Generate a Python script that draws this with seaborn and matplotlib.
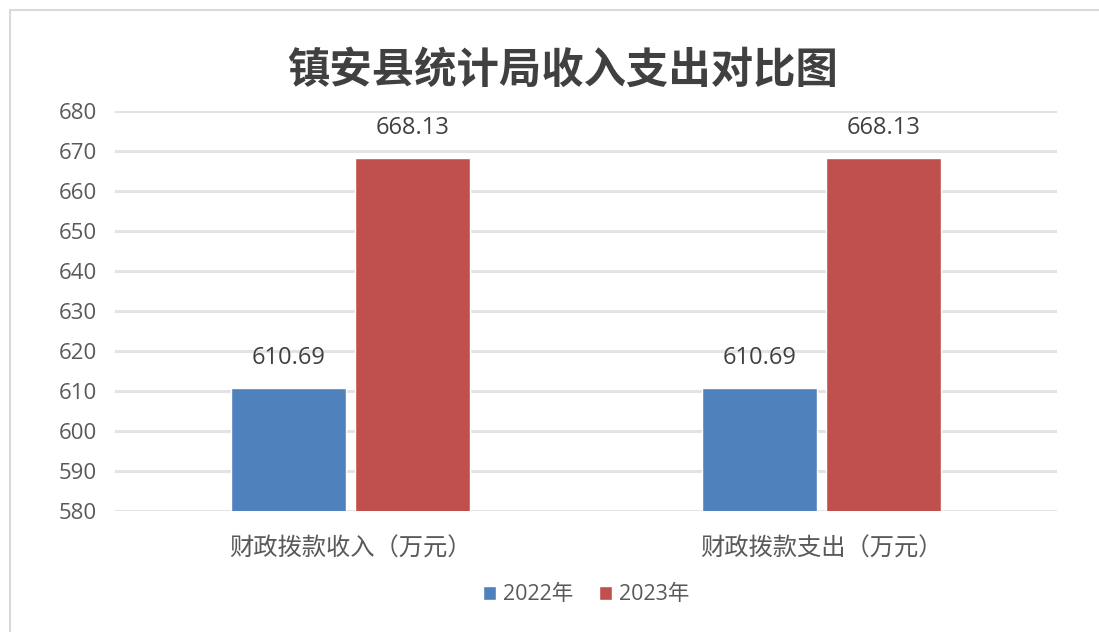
import pandas as pd
import seaborn as sns
import matplotlib.pyplot as plt
from matplotlib.patches import Rectangle

# Chart data
categories = ['财政拨款收入（万元）', '财政拨款支出（万元）']
years = ['2022年', '2023年']
values_2022 = [610.69, 610.69]
values_2023 = [668.13, 668.13]
y_ticks = [580, 590, 600, 610, 620, 630, 640, 650, 660, 670, 680]

df = pd.DataFrame({
    'category': categories * 2,
    'year': [years[0]] * len(categories) + [years[1]] * len(categories),
    'value': values_2022 + values_2023,
})

sns.set_style('white')
plt.rcParams['font.family'] = ['Open Sans', 'Noto Sans CJK SC', 'DejaVu Sans']

fig = plt.figure(figsize=(10.99, 6.32), dpi=100)
ax = fig.add_axes([0.1046, 0.1915, 0.857, 0.633])

# light frame around the chart area
fig.patches.append(Rectangle((10 / 1099, -0.1), 1.2, 1.1 - 10 / 632, transform=fig.transFigure,
                             fill=False, edgecolor='#d9d9d9', linewidth=1.5))

palette = {'2022年': '#4F81BD', '2023年': '#C0504D'}
sns.barplot(data=df, x='category', y='value', hue='year', palette=palette,
            width=0.525, gap=0.07, saturation=1, ax=ax, zorder=3)

ax.set_ylim(580, 680)
ax.set_yticks(y_ticks)
ax.grid(axis='y', color='#e3e3e3', linewidth=2.2, zorder=0)
ax.set_axisbelow(True)
for s in ax.spines.values():
    s.set_visible(False)
ax.tick_params(axis='y', length=0, labelsize=16, labelcolor='#595959', pad=13)
ax.tick_params(axis='x', length=0, labelsize=17.5, labelcolor='#595959', pad=18)
for lbl in ax.get_xticklabels():
    lbl.set_fontfamily(['Noto Sans CJK SC', 'DejaVu Sans'])
    lbl.set_fontweight('light')
ax.set_xlabel('')
ax.set_ylabel('')

for c in ax.containers:
    ax.bar_label(c, fmt='%.2f', padding=13, fontsize=17, color='#404040')

fig.text(0.512, 0.888, '镇安县统计局收入支出对比图', ha='center', va='center',
         fontsize=30.5, fontweight='bold', color='#404040',
         family=['Noto Sans CJK SC', 'DejaVu Sans'])

ax.legend(loc='center', bbox_to_anchor=(0.5, -0.21), ncol=2, frameon=False,
          fontsize=15.5, handlelength=0.62, handleheight=0.62, handletextpad=0.3,
          columnspacing=1.2, labelcolor='#595959')

fig.savefig('out.png', dpi=100)
